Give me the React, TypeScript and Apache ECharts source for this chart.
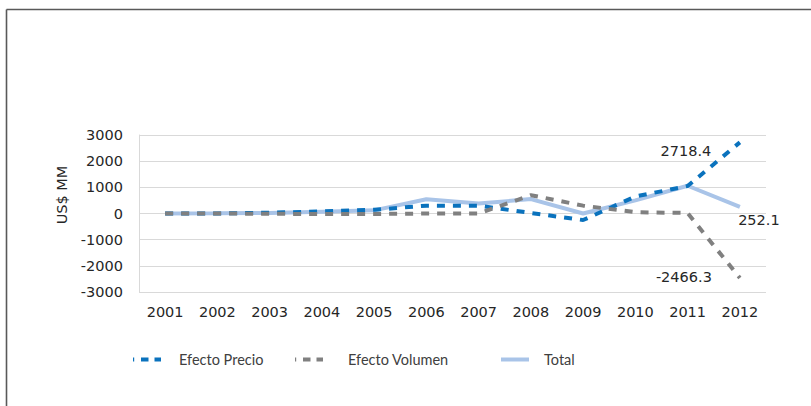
import React, { useEffect, useRef } from "react";
import * as echarts from "echarts";

const years = ["2001", "2002", "2003", "2004", "2005", "2006", "2007", "2008", "2009", "2010", "2011", "2012"];
const efectoPrecio = [0, 0, 30, 80, 140, 300, 300, 20, -250, 650, 1050, 2718.4];
const efectoVolumen = [0, 0, -10, -20, -20, 0, 0, 700, 300, 50, 20, -2466.3];
const total = [0, 5, 20, 70, 120, 545, 380, 550, 0, 500, 1060, 252.1];
const seriesNames = ["Efecto Precio", "Efecto Volumen", "Total"];
const yTicks = [-3000, -2000, -1000, 0, 1000, 2000, 3000];

const FONT = "DejaVu Sans";
const TXT = "#262626";
const BLUE = "#0a72bd";
const GREY = "#808080";
const LIGHT = "#a9c4e8";

function withLastLabel(values: number[], offset: number[]) {
  return values.map((v, i) =>
    i === values.length - 1
      ? {
          value: v,
          symbol: "circle",
          symbolSize: 1,
          itemStyle: { color: "rgba(0,0,0,0)" },
          label: {
            show: true,
            position: "inside",
            offset,
            formatter: "{c}",
            fontFamily: FONT,
            fontSize: 14.5,
            color: TXT,
          },
        }
      : v
  );
}

export default function App() {
  const ref = useRef<HTMLDivElement>(null);
  useEffect(() => {
    if (!ref.current) return;
    const chart = echarts.init(ref.current, null, { renderer: "svg" });
    const legendCommon = {
      top: 352,
      padding: 0,
      itemWidth: 28,
      itemHeight: 4,
      textStyle: { fontFamily: "Lato", fontSize: 14.5, color: "#404040" },
    };
    const dashIcon = "path://M0,0h1.2v4H0zM8,0h7.5v4H8zM21.5,0h6.5v4h-6.5z";
    const solidIcon = "path://M0,0h28v4H0z";
    chart.setOption({
      animation: false,
      backgroundColor: "#ffffff",
      grid: { left: 139, right: 45, top: 135, bottom: 114, containLabel: false },
      legend: [
        {
          ...legendCommon,
          data: [{ name: seriesNames[0], icon: dashIcon, itemStyle: { color: BLUE } }],
          left: 133,
          textStyle: { ...legendCommon.textStyle, padding: [0, 0, 0, 13] },
        },
        {
          ...legendCommon,
          data: [{ name: seriesNames[1], icon: dashIcon, itemStyle: { color: GREY } }],
          left: 295,
          textStyle: { ...legendCommon.textStyle, padding: [0, 0, 0, 20] },
        },
        {
          ...legendCommon,
          data: [{ name: seriesNames[2], icon: solidIcon, itemStyle: { color: LIGHT } }],
          left: 501,
          textStyle: { ...legendCommon.textStyle, padding: [0, 0, 0, 10] },
        },
      ],
      xAxis: {
        type: "category",
        data: years,
        boundaryGap: true,
        axisLine: { show: false, onZero: false },
        axisTick: { show: false },
        axisLabel: { margin: 12, fontFamily: FONT, fontSize: 14.5, color: TXT },
      },
      yAxis: {
        type: "value",
        min: yTicks[0],
        max: yTicks[yTicks.length - 1],
        interval: 1000,
        axisLine: { show: true, lineStyle: { color: "#d9d9d9", width: 1 } },
        axisTick: { show: false },
        splitLine: { lineStyle: { color: "#d9d9d9", width: 1 } },
        axisLabel: {
          margin: 16,
          fontFamily: FONT,
          fontSize: 14.5,
          color: TXT,
          formatter: (v: number) => String(v),
        },
      },
      graphic: [
        { type: "line", shape: { x1: 6.5, y1: 9.5, x2: 811, y2: 9.5 }, style: { stroke: "#595959", lineWidth: 1.6 } },
        { type: "line", shape: { x1: 6.5, y1: 9.5, x2: 6.5, y2: 406 }, style: { stroke: "#595959", lineWidth: 1.6 } },
        {
          type: "text",
          x: 62,
          y: 195,
          rotation: Math.PI / 2,
          style: { text: "US$ MM", fontFamily: FONT, fontSize: 14.5, fill: TXT, align: "center", verticalAlign: "middle" },
        },
      ],
      series: [
        {
          name: seriesNames[0],
          type: "line",
          symbol: "none",
          z: 3,
          data: withLastLabel(efectoPrecio, [-54, 9]),
          lineStyle: { color: BLUE, width: 4, type: [8, 8] },
          itemStyle: { color: BLUE },
        },
        {
          name: seriesNames[1],
          type: "line",
          symbol: "none",
          z: 3,
          data: withLastLabel(efectoVolumen, [-56, -1]),
          lineStyle: { color: GREY, width: 4, type: [8, 8] },
          itemStyle: { color: GREY },
        },
        {
          name: seriesNames[2],
          type: "line",
          symbol: "none",
          z: 2,
          data: withLastLabel(total, [19, 13]),
          lineStyle: { color: LIGHT, width: 4 },
          itemStyle: { color: LIGHT },
        },
      ],
    });
    return () => chart.dispose();
  }, []);
  return <div ref={ref} style={{ position: "absolute", left: 0, top: 0, width: 811, height: 406 }} />;
}
